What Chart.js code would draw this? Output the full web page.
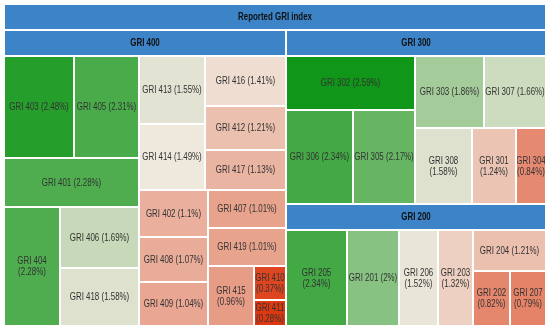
<!DOCTYPE html>
<html>
<head>
<meta charset="utf-8">
<script src="https://cdn.jsdelivr.net/npm/chart.js@4.4.1/dist/chart.umd.min.js"></script>
<style>
html,body{margin:0;padding:0;background:#ffffff;}
#wrap{width:550px;height:330px;position:relative;}
</style>
</head>
<body>
<div id="wrap"><canvas id="c"></canvas></div>
<script>
// ---------- data ----------
const rootLabel = 'Reported GRI index';
const groupNames = ['GRI 400', 'GRI 300', 'GRI 200'];

const gri400Labels = ['GRI 403','GRI 405','GRI 401','GRI 404','GRI 406','GRI 418','GRI 413','GRI 414','GRI 416','GRI 412','GRI 417','GRI 402','GRI 408','GRI 409','GRI 407','GRI 419','GRI 415','GRI 410','GRI 411'];
const gri400Values = [2.48, 2.31, 2.28, 2.28, 1.69, 1.58, 1.55, 1.49, 1.41, 1.21, 1.13, 1.1, 1.07, 1.04, 1.01, 1.01, 0.96, 0.37, 0.28];

const gri300Labels = ['GRI 302','GRI 306','GRI 305','GRI 303','GRI 307','GRI 308','GRI 301','GRI 304'];
const gri300Values = [2.59, 2.34, 2.17, 1.86, 1.66, 1.58, 1.24, 0.84];

const gri200Labels = ['GRI 205','GRI 201','GRI 206','GRI 203','GRI 204','GRI 202','GRI 207'];
const gri200Values = [2.34, 2, 1.52, 1.32, 1.21, 0.82, 0.79];

// ---------- style ----------
const W = 550, H = 330;
const HEADER_H = 26;
const OUTER = {x0: 4, y0: 4, x1: 546, y1: 325.5};
const HEADER_COLOR = '#3c83c7';
const MIN_COLOR = [220, 57, 18];
const MID_COLOR = [240, 232, 222];
const MAX_COLOR = [16, 150, 24];
const TEXT_SX = 0.793;      // horizontal squeeze of the lettering
const LEAF_FONT = '10px "Liberation Sans", Arial, sans-serif';
const HEAD_FONT = 'bold 10px "Liberation Sans", Arial, sans-serif';
const SQUARE_TOL = 0.975;

// ---------- tree ----------
function sumV(a){ return a.reduce((s, d) => s + d.value, 0); }
const groupSeries = [
  {labels: gri400Labels, values: gri400Values},
  {labels: gri300Labels, values: gri300Values},
  {labels: gri200Labels, values: gri200Values}
];
const groupNodes = groupNames.map((name, gi) => {
  const s = groupSeries[gi];
  const children = s.labels.map((l, i) => ({label: l, value: s.values[i]}))
                           .sort((a, b) => b.value - a.value);
  return {label: name, children, value: sumV(children)};
}).sort((a, b) => b.value - a.value);

const allLeafValues = groupSeries.flatMap(s => s.values);
const minV = Math.min(...allLeafValues);
const maxV = Math.max(...allLeafValues);
const midV = allLeafValues.reduce((a, b) => a + b, 0) / allLeafValues.length;

function colorFor(v) {
  let c;
  if (v >= midV) {
    const t = (v - midV) / (maxV - midV);
    c = MID_COLOR.map((m, i) => m + (MAX_COLOR[i] - m) * t);
  } else {
    const t = (midV - v) / (midV - minV);
    c = MID_COLOR.map((m, i) => m + (MIN_COLOR[i] - m) * t);
  }
  return 'rgb(' + c.map(x => Math.round(x)).join(',') + ')';
}

// balanced binary partition (value space == canvas space)
function partition(items, r, out) {
  if (items.length === 1) { out.push({item: items[0], x0: r.x0, y0: r.y0, x1: r.x1, y1: r.y1}); return; }
  const total = sumV(items);
  const half = total / 2;
  let k = 1, acc = items[0].value;
  while (k < items.length - 1 && acc + items[k].value <= half + 1e-9) { acc += items[k].value; k++; }
  const a = items.slice(0, k), b = items.slice(k);
  const va = sumV(a);
  const w = r.x1 - r.x0, h = r.y1 - r.y0;
  if (w > h * SQUARE_TOL) {
    const xm = r.x0 + w * va / total;
    partition(a, {x0: r.x0, y0: r.y0, x1: xm, y1: r.y1}, out);
    partition(b, {x0: xm, y0: r.y0, x1: r.x1, y1: r.y1}, out);
  } else {
    const ym = r.y0 + h * va / total;
    partition(a, {x0: r.x0, y0: r.y0, x1: r.x1, y1: ym}, out);
    partition(b, {x0: r.x0, y0: ym, x1: r.x1, y1: r.y1}, out);
  }
}

const groupRects = [];
partition(groupNodes, {x0: OUTER.x0, y0: OUTER.y0 + HEADER_H, x1: OUTER.x1, y1: OUTER.y1}, groupRects);
const leafRects = [];
groupRects.forEach(g => {
  partition(g.item.children, {x0: g.x0, y0: g.y0 + HEADER_H, x1: g.x1, y1: g.y1}, leafRects);
});

// ---------- drawing through the scales ----------
function drawLines(ctx, lines, box, font, color) {
  ctx.save();
  ctx.beginPath(); ctx.rect(box.l, box.t, box.w, box.h); ctx.clip();
  ctx.font = font; ctx.fillStyle = color;
  ctx.textAlign = 'center'; ctx.textBaseline = 'middle';
  ctx.translate(box.l + box.w / 2, box.t + box.h / 2);
  ctx.scale(TEXT_SX, 1);
  const lh = 11;
  lines.forEach((ln, i) => ctx.fillText(ln, 0, (i - (lines.length - 1) / 2) * lh + 0.5));
  ctx.restore();
}

const treemapPlugin = {
  id: 'treemapCells',
  afterDatasetsDraw(chart) {
    const ctx = chart.ctx, xs = chart.scales.x, ys = chart.scales.y;
    const box = (x0, y0, x1, y1) => {
      const a = Math.round(xs.getPixelForValue(x0)), b = Math.round(xs.getPixelForValue(x1));
      const c = Math.round(ys.getPixelForValue(y0)), d = Math.round(ys.getPixelForValue(y1));
      return {l: Math.min(a, b), t: Math.min(c, d), w: Math.abs(b - a), h: Math.abs(d - c)};
    };
    const fill = (bx, color) => { ctx.fillStyle = color; ctx.fillRect(bx.l, bx.t, bx.w, bx.h); };

    ctx.save();
    // title bar
    const tb = box(OUTER.x0 + 1, OUTER.y0 + 1, OUTER.x1 - 1, OUTER.y0 + HEADER_H - 1);
    fill(tb, HEADER_COLOR);
    drawLines(ctx, [rootLabel], tb, HEAD_FONT, '#111111');
    // group headers
    groupRects.forEach(g => {
      const hb = box(g.x0 + 1, g.y0 + 1, g.x1 - 1, g.y0 + HEADER_H - 1);
      fill(hb, HEADER_COLOR);
      drawLines(ctx, [g.item.label], hb, HEAD_FONT, '#111111');
    });
    // leaves
    leafRects.forEach(r => {
      const lb = box(r.x0 + 1, r.y0 + 1, r.x1 - 1, r.y1 - 1);
      fill(lb, colorFor(r.item.value));
      const full = r.item.label + ' (' + r.item.value + '%)';
      ctx.font = LEAF_FONT;
      const tw = ctx.measureText(full).width * TEXT_SX;
      const lines = tw > lb.w ? [r.item.label, '(' + r.item.value + '%)'] : [full];
      drawLines(ctx, lines, lb, LEAF_FONT, '#333333');
    });
    ctx.restore();
  }
};

new Chart(document.getElementById('c'), {
  type: 'scatter',
  data: {
    datasets: [{
      label: rootLabel,
      data: leafRects.map(r => ({x: (r.x0 + r.x1) / 2, y: (r.y0 + r.y1) / 2})),
      pointRadius: 0,
      pointHoverRadius: 0
    }]
  },
  options: {
    responsive: true,
    maintainAspectRatio: false,
    devicePixelRatio: 1,
    animation: false,
    layout: {padding: 0},
    events: [],
    plugins: {legend: {display: false}, tooltip: {enabled: false}, title: {display: false}},
    scales: {
      x: {type: 'linear', min: 0, max: W, display: false},
      y: {type: 'linear', min: 0, max: H, reverse: true, display: false}
    }
  },
  plugins: [treemapPlugin]
});
</script>
</body>
</html>
